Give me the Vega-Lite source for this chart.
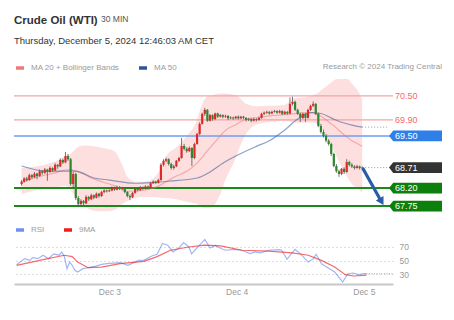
{
  "$schema": "https://vega.github.io/schema/vega-lite/v6.json",
  "padding": {"left": 13, "top": 14, "right": 6, "bottom": 6},
  "background": "white",
  "config": {
    "font": "Liberation Sans",
    "view": {"stroke": null},
    "legend": {"orient": "top", "direction": "horizontal", "offset": 4, "padding": 0, "labelFontSize": 8, "labelColor": "#9a9a9a", "symbolType": "stroke", "symbolStrokeWidth": 3.5, "symbolSize": 64, "symbolOpacity": 1, "columnPadding": 12, "labelOffset": 5}
  },
  "datasets": {
    "candles": [
      {"t":"2024-12-02T06:30","o":68.30,"h":68.40,"l":68.26,"c":68.36},
      {"t":"2024-12-02T07:00","o":68.36,"h":68.47,"l":68.33,"c":68.44},
      {"t":"2024-12-02T07:30","o":68.44,"h":68.48,"l":68.36,"c":68.40},
      {"t":"2024-12-02T08:00","o":68.40,"h":68.56,"l":68.38,"c":68.52},
      {"t":"2024-12-02T08:30","o":68.52,"h":68.55,"l":68.43,"c":68.47},
      {"t":"2024-12-02T09:00","o":68.47,"h":68.60,"l":68.45,"c":68.56},
      {"t":"2024-12-02T09:30","o":68.56,"h":68.58,"l":68.42,"c":68.50},
      {"t":"2024-12-02T10:00","o":68.50,"h":68.66,"l":68.48,"c":68.62},
      {"t":"2024-12-02T10:30","o":68.62,"h":68.65,"l":68.53,"c":68.58},
      {"t":"2024-12-02T11:00","o":68.58,"h":68.70,"l":68.55,"c":68.66},
      {"t":"2024-12-02T11:30","o":68.66,"h":68.68,"l":68.38,"c":68.60},
      {"t":"2024-12-02T12:00","o":68.60,"h":68.74,"l":68.58,"c":68.70},
      {"t":"2024-12-02T12:30","o":68.70,"h":68.72,"l":68.60,"c":68.64},
      {"t":"2024-12-02T13:00","o":68.64,"h":68.82,"l":68.62,"c":68.78},
      {"t":"2024-12-02T13:30","o":68.78,"h":68.80,"l":68.68,"c":68.74},
      {"t":"2024-12-02T14:00","o":68.74,"h":68.94,"l":68.72,"c":68.90},
      {"t":"2024-12-02T14:30","o":68.90,"h":68.93,"l":68.80,"c":68.84},
      {"t":"2024-12-02T15:00","o":68.84,"h":69.10,"l":68.82,"c":69.00},
      {"t":"2024-12-02T15:30","o":69.00,"h":69.05,"l":68.88,"c":68.92},
      {"t":"2024-12-02T16:00","o":68.92,"h":68.95,"l":68.26,"c":68.30},
      {"t":"2024-12-02T16:30","o":68.30,"h":68.60,"l":68.18,"c":68.55},
      {"t":"2024-12-02T17:00","o":68.55,"h":68.58,"l":67.90,"c":67.95},
      {"t":"2024-12-02T17:30","o":67.95,"h":68.00,"l":67.72,"c":67.80},
      {"t":"2024-12-02T18:00","o":67.80,"h":67.92,"l":67.76,"c":67.88},
      {"t":"2024-12-02T18:30","o":67.88,"h":67.90,"l":67.74,"c":67.82},
      {"t":"2024-12-02T19:00","o":67.82,"h":68.02,"l":67.80,"c":67.98},
      {"t":"2024-12-02T19:30","o":67.98,"h":68.00,"l":67.88,"c":67.92},
      {"t":"2024-12-02T20:00","o":67.92,"h":68.06,"l":67.90,"c":68.02},
      {"t":"2024-12-02T20:30","o":68.02,"h":68.04,"l":67.92,"c":67.96},
      {"t":"2024-12-02T21:00","o":67.96,"h":68.09,"l":67.94,"c":68.06},
      {"t":"2024-12-02T21:30","o":68.06,"h":68.08,"l":67.96,"c":68.00},
      {"t":"2024-12-02T22:00","o":68.00,"h":68.13,"l":67.98,"c":68.10},
      {"t":"2024-12-02T22:30","o":68.10,"h":68.17,"l":68.07,"c":68.14},
      {"t":"2024-12-02T23:00","o":68.14,"h":68.16,"l":68.09,"c":68.12},
      {"t":"2024-12-02T23:30","o":68.12,"h":68.17,"l":68.10,"c":68.14},
      {"t":"2024-12-03T00:00","o":68.14,"h":68.24,"l":68.12,"c":68.20},
      {"t":"2024-12-03T00:30","o":68.20,"h":68.23,"l":68.13,"c":68.16},
      {"t":"2024-12-03T01:00","o":68.16,"h":68.26,"l":68.14,"c":68.22},
      {"t":"2024-12-03T01:30","o":68.22,"h":68.25,"l":68.15,"c":68.18},
      {"t":"2024-12-03T02:00","o":68.18,"h":68.23,"l":68.14,"c":68.20},
      {"t":"2024-12-03T02:30","o":68.20,"h":68.22,"l":68.07,"c":68.10},
      {"t":"2024-12-03T03:00","o":68.10,"h":68.12,"l":67.97,"c":68.00},
      {"t":"2024-12-03T03:30","o":68.00,"h":68.04,"l":67.90,"c":67.97},
      {"t":"2024-12-03T04:00","o":67.97,"h":68.10,"l":67.95,"c":68.08},
      {"t":"2024-12-03T04:30","o":68.08,"h":68.20,"l":68.06,"c":68.18},
      {"t":"2024-12-03T05:00","o":68.18,"h":68.21,"l":68.12,"c":68.15},
      {"t":"2024-12-03T05:30","o":68.15,"h":68.25,"l":68.13,"c":68.22},
      {"t":"2024-12-03T06:00","o":68.22,"h":68.24,"l":68.16,"c":68.19},
      {"t":"2024-12-03T06:30","o":68.19,"h":68.27,"l":68.17,"c":68.24},
      {"t":"2024-12-03T07:00","o":68.24,"h":68.26,"l":68.18,"c":68.21},
      {"t":"2024-12-03T07:30","o":68.21,"h":68.35,"l":68.19,"c":68.32},
      {"t":"2024-12-03T08:00","o":68.32,"h":68.39,"l":68.30,"c":68.36},
      {"t":"2024-12-03T08:30","o":68.36,"h":68.38,"l":68.30,"c":68.33},
      {"t":"2024-12-03T09:00","o":68.33,"h":68.43,"l":68.31,"c":68.40},
      {"t":"2024-12-03T09:30","o":68.40,"h":68.82,"l":68.38,"c":68.78},
      {"t":"2024-12-03T10:00","o":68.78,"h":68.92,"l":68.74,"c":68.88},
      {"t":"2024-12-03T10:30","o":68.88,"h":68.96,"l":68.84,"c":68.92},
      {"t":"2024-12-03T11:00","o":68.92,"h":68.94,"l":68.76,"c":68.80},
      {"t":"2024-12-03T11:30","o":68.80,"h":68.83,"l":68.66,"c":68.70},
      {"t":"2024-12-03T12:00","o":68.70,"h":68.78,"l":68.66,"c":68.74},
      {"t":"2024-12-03T12:30","o":68.74,"h":68.90,"l":68.72,"c":68.88},
      {"t":"2024-12-03T13:00","o":68.88,"h":68.98,"l":68.85,"c":68.95},
      {"t":"2024-12-03T13:30","o":68.95,"h":69.45,"l":68.93,"c":69.25},
      {"t":"2024-12-03T14:00","o":69.25,"h":69.30,"l":69.14,"c":69.18},
      {"t":"2024-12-03T14:30","o":69.18,"h":69.22,"l":69.08,"c":69.12},
      {"t":"2024-12-03T15:00","o":69.12,"h":69.24,"l":69.10,"c":69.20},
      {"t":"2024-12-03T15:30","o":69.20,"h":69.22,"l":68.75,"c":68.95},
      {"t":"2024-12-03T16:00","o":68.95,"h":69.33,"l":68.92,"c":69.30},
      {"t":"2024-12-03T16:30","o":69.30,"h":69.58,"l":69.28,"c":69.55},
      {"t":"2024-12-03T17:00","o":69.55,"h":69.84,"l":69.52,"c":69.80},
      {"t":"2024-12-03T17:30","o":69.80,"h":70.08,"l":69.78,"c":70.05},
      {"t":"2024-12-03T18:00","o":70.05,"h":70.20,"l":70.00,"c":70.15},
      {"t":"2024-12-03T18:30","o":70.15,"h":70.17,"l":69.85,"c":69.88},
      {"t":"2024-12-03T19:00","o":69.88,"h":70.05,"l":69.86,"c":70.02},
      {"t":"2024-12-03T19:30","o":70.02,"h":70.04,"l":69.88,"c":69.92},
      {"t":"2024-12-03T20:00","o":69.92,"h":70.08,"l":69.90,"c":70.06},
      {"t":"2024-12-03T20:30","o":70.06,"h":70.08,"l":69.95,"c":69.98},
      {"t":"2024-12-03T21:00","o":69.98,"h":70.05,"l":69.96,"c":70.02},
      {"t":"2024-12-03T21:30","o":70.02,"h":70.04,"l":69.94,"c":69.98},
      {"t":"2024-12-03T22:00","o":69.98,"h":70.03,"l":69.95,"c":70.00},
      {"t":"2024-12-03T22:30","o":70.00,"h":70.02,"l":69.90,"c":69.94},
      {"t":"2024-12-03T23:00","o":69.94,"h":69.99,"l":69.92,"c":69.96},
      {"t":"2024-12-03T23:30","o":69.96,"h":69.98,"l":69.90,"c":69.94},
      {"t":"2024-12-04T00:00","o":69.94,"h":70.00,"l":69.92,"c":69.98},
      {"t":"2024-12-04T00:30","o":69.98,"h":70.01,"l":69.91,"c":69.94},
      {"t":"2024-12-04T01:00","o":69.94,"h":70.00,"l":69.92,"c":69.98},
      {"t":"2024-12-04T01:30","o":69.98,"h":70.00,"l":69.92,"c":69.95},
      {"t":"2024-12-04T02:00","o":69.95,"h":69.97,"l":69.86,"c":69.90},
      {"t":"2024-12-04T02:30","o":69.90,"h":69.95,"l":69.87,"c":69.92},
      {"t":"2024-12-04T03:00","o":69.92,"h":69.94,"l":69.84,"c":69.88},
      {"t":"2024-12-04T03:30","o":69.88,"h":69.95,"l":69.86,"c":69.92},
      {"t":"2024-12-04T04:00","o":69.92,"h":69.94,"l":69.86,"c":69.90},
      {"t":"2024-12-04T04:30","o":69.90,"h":69.98,"l":69.88,"c":69.95},
      {"t":"2024-12-04T05:00","o":69.95,"h":70.08,"l":69.93,"c":70.05},
      {"t":"2024-12-04T05:30","o":70.05,"h":70.11,"l":70.02,"c":70.08},
      {"t":"2024-12-04T06:00","o":70.08,"h":70.13,"l":70.05,"c":70.10},
      {"t":"2024-12-04T06:30","o":70.10,"h":70.12,"l":70.03,"c":70.06},
      {"t":"2024-12-04T07:00","o":70.06,"h":70.13,"l":70.04,"c":70.10},
      {"t":"2024-12-04T07:30","o":70.10,"h":70.15,"l":70.08,"c":70.12},
      {"t":"2024-12-04T08:00","o":70.12,"h":70.14,"l":70.05,"c":70.08},
      {"t":"2024-12-04T08:30","o":70.08,"h":70.15,"l":70.06,"c":70.12},
      {"t":"2024-12-04T09:00","o":70.12,"h":70.14,"l":70.02,"c":70.05},
      {"t":"2024-12-04T09:30","o":70.05,"h":70.13,"l":70.03,"c":70.10},
      {"t":"2024-12-04T10:00","o":70.10,"h":70.12,"l":70.03,"c":70.06},
      {"t":"2024-12-04T10:30","o":70.06,"h":70.46,"l":70.04,"c":70.30},
      {"t":"2024-12-04T11:00","o":70.30,"h":70.48,"l":70.26,"c":70.35},
      {"t":"2024-12-04T11:30","o":70.35,"h":70.38,"l":70.12,"c":70.15},
      {"t":"2024-12-04T12:00","o":70.15,"h":70.18,"l":70.02,"c":70.05},
      {"t":"2024-12-04T12:30","o":70.05,"h":70.08,"l":69.85,"c":69.95},
      {"t":"2024-12-04T13:00","o":69.95,"h":70.08,"l":69.92,"c":70.05},
      {"t":"2024-12-04T13:30","o":70.05,"h":70.07,"l":69.85,"c":69.95},
      {"t":"2024-12-04T14:00","o":69.95,"h":70.18,"l":69.93,"c":70.15},
      {"t":"2024-12-04T14:30","o":70.15,"h":70.28,"l":70.12,"c":70.25},
      {"t":"2024-12-04T15:00","o":70.25,"h":70.36,"l":70.22,"c":70.30},
      {"t":"2024-12-04T15:30","o":70.30,"h":70.32,"l":70.02,"c":70.05},
      {"t":"2024-12-04T16:00","o":70.05,"h":70.08,"l":69.72,"c":69.75},
      {"t":"2024-12-04T16:30","o":69.75,"h":69.80,"l":69.56,"c":69.60},
      {"t":"2024-12-04T17:00","o":69.60,"h":69.66,"l":69.46,"c":69.50},
      {"t":"2024-12-04T17:30","o":69.50,"h":69.55,"l":69.34,"c":69.38},
      {"t":"2024-12-04T18:00","o":69.38,"h":69.42,"l":69.26,"c":69.30},
      {"t":"2024-12-04T18:30","o":69.30,"h":69.33,"l":69.00,"c":69.05},
      {"t":"2024-12-04T19:00","o":69.05,"h":69.08,"l":68.72,"c":68.75},
      {"t":"2024-12-04T19:30","o":68.75,"h":68.80,"l":68.58,"c":68.62},
      {"t":"2024-12-04T20:00","o":68.62,"h":68.66,"l":68.48,"c":68.55},
      {"t":"2024-12-04T20:30","o":68.55,"h":68.70,"l":68.52,"c":68.68},
      {"t":"2024-12-04T21:00","o":68.68,"h":68.72,"l":68.55,"c":68.60},
      {"t":"2024-12-04T21:30","o":68.60,"h":68.92,"l":68.58,"c":68.85},
      {"t":"2024-12-04T22:00","o":68.85,"h":68.88,"l":68.74,"c":68.78},
      {"t":"2024-12-04T22:30","o":68.78,"h":68.82,"l":68.70,"c":68.74},
      {"t":"2024-12-04T23:00","o":68.74,"h":68.77,"l":68.66,"c":68.70},
      {"t":"2024-12-04T23:30","o":68.70,"h":68.78,"l":68.68,"c":68.74},
      {"t":"2024-12-05T00:00","o":68.74,"h":68.76,"l":68.66,"c":68.70},
      {"t":"2024-12-05T00:30","o":68.70,"h":68.74,"l":68.68,"c":68.71}
    ],
    "band": [
      {"t":"2024-12-02T06:30","u":68.70,"l":68.05},
      {"t":"2024-12-02T09:00","u":68.74,"l":68.14},
      {"t":"2024-12-02T11:00","u":68.78,"l":68.18},
      {"t":"2024-12-02T13:00","u":68.86,"l":68.22},
      {"t":"2024-12-02T15:00","u":69.00,"l":68.25},
      {"t":"2024-12-02T16:00","u":69.05,"l":68.15},
      {"t":"2024-12-02T17:00","u":69.18,"l":67.98},
      {"t":"2024-12-02T18:30","u":69.26,"l":67.78},
      {"t":"2024-12-02T20:00","u":69.25,"l":67.65},
      {"t":"2024-12-02T21:30","u":69.22,"l":67.62},
      {"t":"2024-12-02T23:00","u":69.18,"l":67.62},
      {"t":"2024-12-03T00:30","u":69.12,"l":67.65},
      {"t":"2024-12-03T02:00","u":68.78,"l":67.80},
      {"t":"2024-12-03T03:00","u":68.48,"l":67.88},
      {"t":"2024-12-03T04:30","u":68.36,"l":67.95},
      {"t":"2024-12-03T06:00","u":68.36,"l":67.98},
      {"t":"2024-12-03T08:00","u":68.44,"l":67.98},
      {"t":"2024-12-03T09:30","u":68.70,"l":67.96},
      {"t":"2024-12-03T10:30","u":69.00,"l":67.95},
      {"t":"2024-12-03T12:30","u":69.22,"l":67.92},
      {"t":"2024-12-03T14:30","u":69.50,"l":67.86},
      {"t":"2024-12-03T16:30","u":69.90,"l":67.80},
      {"t":"2024-12-03T17:30","u":70.30,"l":67.72},
      {"t":"2024-12-03T18:00","u":70.42,"l":67.70},
      {"t":"2024-12-03T19:00","u":70.50,"l":67.70},
      {"t":"2024-12-03T20:00","u":70.54,"l":67.80},
      {"t":"2024-12-03T21:00","u":70.56,"l":68.05},
      {"t":"2024-12-03T22:00","u":70.56,"l":68.40},
      {"t":"2024-12-04T00:00","u":70.52,"l":68.95},
      {"t":"2024-12-04T01:00","u":70.42,"l":69.30},
      {"t":"2024-12-04T02:00","u":70.30,"l":69.55},
      {"t":"2024-12-04T04:00","u":70.24,"l":69.78},
      {"t":"2024-12-04T06:30","u":70.25,"l":69.84},
      {"t":"2024-12-04T09:30","u":70.28,"l":69.88},
      {"t":"2024-12-04T11:00","u":70.42,"l":69.84},
      {"t":"2024-12-04T12:00","u":70.45,"l":69.83},
      {"t":"2024-12-04T14:00","u":70.48,"l":69.83},
      {"t":"2024-12-04T15:00","u":70.52,"l":69.83},
      {"t":"2024-12-04T16:00","u":70.58,"l":69.78},
      {"t":"2024-12-04T17:00","u":70.68,"l":69.62},
      {"t":"2024-12-04T18:00","u":70.78,"l":69.40},
      {"t":"2024-12-04T19:30","u":70.92,"l":69.00},
      {"t":"2024-12-04T20:30","u":70.96,"l":68.72},
      {"t":"2024-12-04T21:30","u":70.94,"l":68.50},
      {"t":"2024-12-04T22:30","u":70.80,"l":68.30},
      {"t":"2024-12-05T00:00","u":70.55,"l":68.15},
      {"t":"2024-12-05T00:30","u":70.40,"l":68.07}
    ],
    "ma": [
      {"t":"2024-12-02T06:30","s":"MA 20 + Bollinger Bands","v":68.35},
      {"t":"2024-12-02T09:00","s":"MA 20 + Bollinger Bands","v":68.45},
      {"t":"2024-12-02T11:00","s":"MA 20 + Bollinger Bands","v":68.52},
      {"t":"2024-12-02T13:00","s":"MA 20 + Bollinger Bands","v":68.58},
      {"t":"2024-12-02T15:00","s":"MA 20 + Bollinger Bands","v":68.65},
      {"t":"2024-12-02T16:00","s":"MA 20 + Bollinger Bands","v":68.66},
      {"t":"2024-12-02T17:00","s":"MA 20 + Bollinger Bands","v":68.62},
      {"t":"2024-12-02T18:30","s":"MA 20 + Bollinger Bands","v":68.55},
      {"t":"2024-12-02T20:00","s":"MA 20 + Bollinger Bands","v":68.45},
      {"t":"2024-12-02T21:30","s":"MA 20 + Bollinger Bands","v":68.38},
      {"t":"2024-12-02T23:00","s":"MA 20 + Bollinger Bands","v":68.32},
      {"t":"2024-12-03T00:30","s":"MA 20 + Bollinger Bands","v":68.26},
      {"t":"2024-12-03T02:00","s":"MA 20 + Bollinger Bands","v":68.17},
      {"t":"2024-12-03T03:00","s":"MA 20 + Bollinger Bands","v":68.12},
      {"t":"2024-12-03T04:30","s":"MA 20 + Bollinger Bands","v":68.12},
      {"t":"2024-12-03T06:00","s":"MA 20 + Bollinger Bands","v":68.14},
      {"t":"2024-12-03T08:00","s":"MA 20 + Bollinger Bands","v":68.20},
      {"t":"2024-12-03T09:30","s":"MA 20 + Bollinger Bands","v":68.28},
      {"t":"2024-12-03T10:30","s":"MA 20 + Bollinger Bands","v":68.36},
      {"t":"2024-12-03T12:30","s":"MA 20 + Bollinger Bands","v":68.50},
      {"t":"2024-12-03T14:30","s":"MA 20 + Bollinger Bands","v":68.62},
      {"t":"2024-12-03T16:30","s":"MA 20 + Bollinger Bands","v":68.82},
      {"t":"2024-12-03T17:30","s":"MA 20 + Bollinger Bands","v":68.97},
      {"t":"2024-12-03T18:00","s":"MA 20 + Bollinger Bands","v":69.05},
      {"t":"2024-12-03T19:00","s":"MA 20 + Bollinger Bands","v":69.20},
      {"t":"2024-12-03T20:00","s":"MA 20 + Bollinger Bands","v":69.35},
      {"t":"2024-12-03T21:00","s":"MA 20 + Bollinger Bands","v":69.50},
      {"t":"2024-12-03T22:00","s":"MA 20 + Bollinger Bands","v":69.64},
      {"t":"2024-12-04T00:00","s":"MA 20 + Bollinger Bands","v":69.78},
      {"t":"2024-12-04T01:00","s":"MA 20 + Bollinger Bands","v":69.86},
      {"t":"2024-12-04T02:00","s":"MA 20 + Bollinger Bands","v":69.92},
      {"t":"2024-12-04T04:00","s":"MA 20 + Bollinger Bands","v":69.96},
      {"t":"2024-12-04T06:30","s":"MA 20 + Bollinger Bands","v":70.00},
      {"t":"2024-12-04T09:30","s":"MA 20 + Bollinger Bands","v":70.03},
      {"t":"2024-12-04T11:00","s":"MA 20 + Bollinger Bands","v":70.05},
      {"t":"2024-12-04T12:00","s":"MA 20 + Bollinger Bands","v":70.07},
      {"t":"2024-12-04T14:00","s":"MA 20 + Bollinger Bands","v":70.08},
      {"t":"2024-12-04T15:00","s":"MA 20 + Bollinger Bands","v":70.08},
      {"t":"2024-12-04T16:00","s":"MA 20 + Bollinger Bands","v":70.02},
      {"t":"2024-12-04T17:00","s":"MA 20 + Bollinger Bands","v":69.95},
      {"t":"2024-12-04T18:00","s":"MA 20 + Bollinger Bands","v":69.85},
      {"t":"2024-12-04T19:30","s":"MA 20 + Bollinger Bands","v":69.70},
      {"t":"2024-12-04T20:30","s":"MA 20 + Bollinger Bands","v":69.58},
      {"t":"2024-12-04T21:30","s":"MA 20 + Bollinger Bands","v":69.48},
      {"t":"2024-12-04T22:30","s":"MA 20 + Bollinger Bands","v":69.38},
      {"t":"2024-12-05T00:00","s":"MA 20 + Bollinger Bands","v":69.28},
      {"t":"2024-12-05T00:30","s":"MA 20 + Bollinger Bands","v":69.24},
      {"t":"2024-12-02T06:30","s":"MA 50","v":68.75},
      {"t":"2024-12-02T11:30","s":"MA 50","v":68.62},
      {"t":"2024-12-02T17:00","s":"MA 50","v":68.62},
      {"t":"2024-12-02T20:30","s":"MA 50","v":68.45},
      {"t":"2024-12-02T23:30","s":"MA 50","v":68.40},
      {"t":"2024-12-03T04:30","s":"MA 50","v":68.32},
      {"t":"2024-12-03T08:00","s":"MA 50","v":68.34},
      {"t":"2024-12-03T11:00","s":"MA 50","v":68.37},
      {"t":"2024-12-03T16:30","s":"MA 50","v":68.45},
      {"t":"2024-12-03T19:00","s":"MA 50","v":68.60},
      {"t":"2024-12-03T21:30","s":"MA 50","v":68.82},
      {"t":"2024-12-04T00:30","s":"MA 50","v":69.03},
      {"t":"2024-12-04T04:00","s":"MA 50","v":69.24},
      {"t":"2024-12-04T06:30","s":"MA 50","v":69.38},
      {"t":"2024-12-04T09:30","s":"MA 50","v":69.65},
      {"t":"2024-12-04T12:00","s":"MA 50","v":69.92},
      {"t":"2024-12-04T14:30","s":"MA 50","v":70.08},
      {"t":"2024-12-04T16:30","s":"MA 50","v":70.06},
      {"t":"2024-12-04T18:30","s":"MA 50","v":69.95},
      {"t":"2024-12-04T20:30","s":"MA 50","v":69.84},
      {"t":"2024-12-04T22:30","s":"MA 50","v":69.77},
      {"t":"2024-12-05T00:30","s":"MA 50","v":69.72}
    ],
    "levels": [
      {"v":70.50,"label":"70.50","kind":"res"},
      {"v":69.90,"label":"69.90","kind":"res"},
      {"v":69.50,"label":"69.50","kind":"pivot"},
      {"v":68.71,"label":"68.71","kind":"last"},
      {"v":68.20,"label":"68.20","kind":"sup"},
      {"v":67.75,"label":"67.75","kind":"sup"}
    ],
    "ext": [
      {"t":"2024-12-05T00:30","t2":"2024-12-05T05:30","v":69.72},
      {"t":"2024-12-05T00:30","t2":"2024-12-05T05:30","v":68.71}
    ],
    "arrow": [
      {"t":"2024-12-05T00:40","v":68.68},
      {"t":"2024-12-05T03:50","v":67.95}
    ],
    "head": [
      {"t":"2024-12-05T04:15","v":67.86}
    ],
    "rsi": [
      {"t":"2024-12-02T06:30","s":"RSI","v":44},
      {"t":"2024-12-02T08:00","s":"RSI","v":53},
      {"t":"2024-12-02T09:00","s":"RSI","v":50.5},
      {"t":"2024-12-02T09:30","s":"RSI","v":54.5},
      {"t":"2024-12-02T10:30","s":"RSI","v":53},
      {"t":"2024-12-02T11:30","s":"RSI","v":58},
      {"t":"2024-12-02T12:30","s":"RSI","v":53},
      {"t":"2024-12-02T13:30","s":"RSI","v":60},
      {"t":"2024-12-02T14:30","s":"RSI","v":58},
      {"t":"2024-12-02T15:00","s":"RSI","v":62.7},
      {"t":"2024-12-02T15:30","s":"RSI","v":56},
      {"t":"2024-12-02T16:00","s":"RSI","v":38.4},
      {"t":"2024-12-02T16:30","s":"RSI","v":48},
      {"t":"2024-12-02T17:00","s":"RSI","v":43},
      {"t":"2024-12-02T17:30","s":"RSI","v":36},
      {"t":"2024-12-02T18:00","s":"RSI","v":33.4},
      {"t":"2024-12-02T19:00","s":"RSI","v":38.4},
      {"t":"2024-12-02T20:30","s":"RSI","v":40.7},
      {"t":"2024-12-02T21:30","s":"RSI","v":42},
      {"t":"2024-12-02T22:30","s":"RSI","v":44.6},
      {"t":"2024-12-02T23:30","s":"RSI","v":45.6},
      {"t":"2024-12-03T02:00","s":"RSI","v":47.1},
      {"t":"2024-12-03T03:30","s":"RSI","v":43.2},
      {"t":"2024-12-03T05:30","s":"RSI","v":50.5},
      {"t":"2024-12-03T06:30","s":"RSI","v":50.5},
      {"t":"2024-12-03T08:00","s":"RSI","v":56.9},
      {"t":"2024-12-03T09:00","s":"RSI","v":59.3},
      {"t":"2024-12-03T10:00","s":"RSI","v":75},
      {"t":"2024-12-03T11:00","s":"RSI","v":72.6},
      {"t":"2024-12-03T12:00","s":"RSI","v":62.7},
      {"t":"2024-12-03T13:00","s":"RSI","v":67.7},
      {"t":"2024-12-03T14:00","s":"RSI","v":76.5},
      {"t":"2024-12-03T15:00","s":"RSI","v":70},
      {"t":"2024-12-03T15:30","s":"RSI","v":60},
      {"t":"2024-12-03T17:00","s":"RSI","v":72.6},
      {"t":"2024-12-03T18:00","s":"RSI","v":81},
      {"t":"2024-12-03T19:00","s":"RSI","v":68.5},
      {"t":"2024-12-03T20:00","s":"RSI","v":72.6},
      {"t":"2024-12-03T21:00","s":"RSI","v":67.7},
      {"t":"2024-12-03T22:00","s":"RSI","v":65.2},
      {"t":"2024-12-03T23:30","s":"RSI","v":66.4},
      {"t":"2024-12-04T01:00","s":"RSI","v":65.2},
      {"t":"2024-12-04T02:30","s":"RSI","v":60.3},
      {"t":"2024-12-04T03:30","s":"RSI","v":62.7},
      {"t":"2024-12-04T04:30","s":"RSI","v":61.5},
      {"t":"2024-12-04T06:00","s":"RSI","v":65.2},
      {"t":"2024-12-04T08:00","s":"RSI","v":66.2},
      {"t":"2024-12-04T08:30","s":"RSI","v":65.2},
      {"t":"2024-12-04T09:30","s":"RSI","v":52},
      {"t":"2024-12-04T11:00","s":"RSI","v":66.4},
      {"t":"2024-12-04T12:00","s":"RSI","v":60.3},
      {"t":"2024-12-04T13:30","s":"RSI","v":48},
      {"t":"2024-12-04T14:30","s":"RSI","v":53},
      {"t":"2024-12-04T15:00","s":"RSI","v":59.3},
      {"t":"2024-12-04T16:00","s":"RSI","v":45.6},
      {"t":"2024-12-04T17:00","s":"RSI","v":40.7},
      {"t":"2024-12-04T18:30","s":"RSI","v":33.4},
      {"t":"2024-12-04T19:30","s":"RSI","v":23.7},
      {"t":"2024-12-04T20:00","s":"RSI","v":18.8},
      {"t":"2024-12-04T21:00","s":"RSI","v":31},
      {"t":"2024-12-04T22:00","s":"RSI","v":32},
      {"t":"2024-12-04T23:00","s":"RSI","v":29.6},
      {"t":"2024-12-05T00:00","s":"RSI","v":31},
      {"t":"2024-12-05T00:30","s":"RSI","v":31},
      {"t":"2024-12-02T06:30","s":"9MA","v":43.2},
      {"t":"2024-12-02T11:30","s":"9MA","v":51.5},
      {"t":"2024-12-02T15:30","s":"9MA","v":57.9},
      {"t":"2024-12-02T17:00","s":"9MA","v":56},
      {"t":"2024-12-02T18:00","s":"9MA","v":48},
      {"t":"2024-12-02T20:00","s":"9MA","v":39.8},
      {"t":"2024-12-02T22:30","s":"9MA","v":40.7},
      {"t":"2024-12-03T02:00","s":"9MA","v":45.6},
      {"t":"2024-12-03T06:30","s":"9MA","v":49},
      {"t":"2024-12-03T09:00","s":"9MA","v":56},
      {"t":"2024-12-03T11:30","s":"9MA","v":65.2},
      {"t":"2024-12-03T15:00","s":"9MA","v":70},
      {"t":"2024-12-03T18:00","s":"9MA","v":72.6},
      {"t":"2024-12-03T21:00","s":"9MA","v":71.5},
      {"t":"2024-12-04T01:00","s":"9MA","v":65.2},
      {"t":"2024-12-04T06:00","s":"9MA","v":63.9},
      {"t":"2024-12-04T10:30","s":"9MA","v":61.5},
      {"t":"2024-12-04T13:30","s":"9MA","v":57.9},
      {"t":"2024-12-04T16:00","s":"9MA","v":50.5},
      {"t":"2024-12-04T18:30","s":"9MA","v":40.7},
      {"t":"2024-12-04T20:30","s":"9MA","v":29.6},
      {"t":"2024-12-04T22:00","s":"9MA","v":27.7},
      {"t":"2024-12-05T00:00","s":"9MA","v":28.6},
      {"t":"2024-12-05T00:30","s":"9MA","v":28.8}
    ],
    "rsiext": [
      {"t":"2024-12-05T00:30","t2":"2024-12-05T05:30","v":31}
    ]
  },
  "title": {"text": "Crude Oil (WTI)", "subtitle": "Thursday, December 5, 2024 12:46:03 AM CET", "anchor": "start", "frame": "group", "fontSize": 11.5, "fontWeight": "bold", "color": "#333333", "subtitleFontSize": 9.5, "subtitleColor": "#333333", "subtitlePadding": 10, "offset": -31},
  "vconcat": [
    {
      "title": {"text": "30 MIN", "anchor": "start", "frame": "group", "fontSize": 8.5, "fontWeight": "normal", "color": "#555555", "offset": 39, "dx": 87},
      "spacing": 11,
      "resolve": {"scale": {"color": "independent"}, "legend": {"color": "independent"}},
      "vconcat": [
        {
          "width": 379,
          "height": 134,
          "title": {"text": "Research © 2024 Trading Central", "anchor": "end", "frame": "group", "fontSize": 8, "fontWeight": "normal", "color": "#9a9a9a", "offset": -9, "dx": 49},
          "layer": [
            {
              "data": {"name": "band"},
              "mark": {"type": "area", "color": "#fbcaca", "opacity": 0.6, "clip": true, "interpolate": "monotone"},
              "encoding": {
                "x": {"field": "t", "type": "temporal", "scale": {"domain": [{"year": 2024, "month": 12, "date": 2, "hours": 6}, {"year": 2024, "month": 12, "date": 5, "hours": 5, "minutes": 30}], "nice": false}, "axis": null},
                "y": {"field": "u", "type": "quantitative", "scale": {"domain": [67.578, 70.92], "nice": false, "zero": false}, "axis": null},
                "y2": {"field": "l"}
              }
            },
            {
              "data": {"name": "levels"},
              "transform": [{"filter": "datum.kind == 'res'"}],
              "mark": {"type": "rule", "color": "#f6a3a3", "strokeWidth": 1.3},
              "encoding": {"y": {"field": "v", "type": "quantitative", "scale": {"domain": [67.578, 70.92], "nice": false, "zero": false}, "axis": null}}
            },
            {
              "data": {"name": "levels"},
              "transform": [{"filter": "datum.kind == 'pivot'"}],
              "mark": {"type": "rule", "color": "#6c9ef3", "strokeWidth": 1.5},
              "encoding": {"y": {"field": "v", "type": "quantitative", "scale": {"domain": [67.578, 70.92], "nice": false, "zero": false}, "axis": null}}
            },
            {
              "data": {"name": "levels"},
              "transform": [{"filter": "datum.kind == 'sup'"}],
              "mark": {"type": "rule", "color": "#1a8a1a", "strokeWidth": 2},
              "encoding": {"y": {"field": "v", "type": "quantitative", "scale": {"domain": [67.578, 70.92], "nice": false, "zero": false}, "axis": null}}
            },
            {
              "data": {"name": "ma"},
              "mark": {"type": "line", "strokeWidth": 1.2, "opacity": 0.55, "interpolate": "monotone"},
              "encoding": {
                "x": {"field": "t", "type": "temporal", "scale": {"domain": [{"year": 2024, "month": 12, "date": 2, "hours": 6}, {"year": 2024, "month": 12, "date": 5, "hours": 5, "minutes": 30}], "nice": false}, "axis": null},
                "y": {"field": "v", "type": "quantitative", "scale": {"domain": [67.578, 70.92], "nice": false, "zero": false}, "axis": null},
                "color": {"field": "s", "type": "nominal", "scale": {"domain": ["MA 20 + Bollinger Bands", "MA 50"], "range": ["#f07a7a", "#2f5597"]}, "legend": {"title": null}}
              }
            },
            {
              "data": {"name": "candles"},
              "mark": {"type": "rule", "color": "#555555", "strokeWidth": 0.8},
              "encoding": {
                "x": {"field": "t", "type": "temporal", "scale": {"domain": [{"year": 2024, "month": 12, "date": 2, "hours": 6}, {"year": 2024, "month": 12, "date": 5, "hours": 5, "minutes": 30}], "nice": false}, "axis": null},
                "y": {"field": "l", "type": "quantitative", "scale": {"domain": [67.578, 70.92], "nice": false, "zero": false}, "axis": null},
                "y2": {"field": "h"}
              }
            },
            {
              "data": {"name": "candles"},
              "mark": {"type": "bar", "width": 2.2},
              "encoding": {
                "x": {"field": "t", "type": "temporal", "scale": {"domain": [{"year": 2024, "month": 12, "date": 2, "hours": 6}, {"year": 2024, "month": 12, "date": 5, "hours": 5, "minutes": 30}], "nice": false}, "axis": null},
                "y": {"field": "o", "type": "quantitative", "scale": {"domain": [67.578, 70.92], "nice": false, "zero": false}, "axis": null},
                "y2": {"field": "c"},
                "color": {"condition": {"test": "datum.c >= datum.o", "value": "#e02828"}, "value": "#2e862e"}
              }
            },
            {
              "data": {"name": "ext"},
              "mark": {"type": "rule", "color": "#9a9a9a", "strokeWidth": 1, "strokeDash": [1, 2]},
              "encoding": {
                "x": {"field": "t", "type": "temporal", "scale": {"domain": [{"year": 2024, "month": 12, "date": 2, "hours": 6}, {"year": 2024, "month": 12, "date": 5, "hours": 5, "minutes": 30}], "nice": false}, "axis": null},
                "x2": {"field": "t2"},
                "y": {"field": "v", "type": "quantitative", "scale": {"domain": [67.578, 70.92], "nice": false, "zero": false}, "axis": null}
              }
            },
            {
              "data": {"name": "arrow"},
              "mark": {"type": "line", "color": "#2b5ca6", "strokeWidth": 3.2, "strokeCap": "round"},
              "encoding": {
                "x": {"field": "t", "type": "temporal", "scale": {"domain": [{"year": 2024, "month": 12, "date": 2, "hours": 6}, {"year": 2024, "month": 12, "date": 5, "hours": 5, "minutes": 30}], "nice": false}, "axis": null},
                "y": {"field": "v", "type": "quantitative", "scale": {"domain": [67.578, 70.92], "nice": false, "zero": false}, "axis": null}
              }
            },
            {
              "data": {"name": "head"},
              "mark": {"type": "point", "shape": "triangle-down", "filled": true, "color": "#2b5ca6", "size": 80, "angle": 330, "opacity": 1},
              "encoding": {
                "x": {"field": "t", "type": "temporal", "scale": {"domain": [{"year": 2024, "month": 12, "date": 2, "hours": 6}, {"year": 2024, "month": 12, "date": 5, "hours": 5, "minutes": 30}], "nice": false}, "axis": null},
                "y": {"field": "v", "type": "quantitative", "scale": {"domain": [67.578, 70.92], "nice": false, "zero": false}, "axis": null}
              }
            },
            {
              "data": {"name": "levels"},
              "transform": [{"filter": "datum.kind != 'res'"}],
              "mark": {"type": "point", "shape": "M-1,0L-0.84,-0.205L1,-0.205L1,0.205L-0.84,0.205Z", "size": 2809, "filled": true, "opacity": 1, "strokeWidth": 0, "xOffset": 27.5},
              "encoding": {
                "x": {"datum": {"year": 2024, "month": 12, "date": 5, "hours": 5, "minutes": 30}, "type": "temporal", "scale": {"domain": [{"year": 2024, "month": 12, "date": 2, "hours": 6}, {"year": 2024, "month": 12, "date": 5, "hours": 5, "minutes": 30}], "nice": false}, "axis": null},
                "y": {"field": "v", "type": "quantitative", "scale": {"domain": [67.578, 70.92], "nice": false, "zero": false}, "axis": null},
                "fill": {"field": "kind", "type": "nominal", "scale": {"domain": ["pivot", "last", "sup"], "range": ["#2f7fe8", "#333333", "#0d7f0d"]}, "legend": null}
              }
            },
            {
              "data": {"name": "levels"},
              "transform": [{"filter": "datum.kind == 'res'"}],
              "mark": {"type": "text", "color": "#f46a6a", "fontSize": 9, "align": "left", "baseline": "middle", "dx": 7},
              "encoding": {
                "x": {"datum": {"year": 2024, "month": 12, "date": 5, "hours": 5, "minutes": 30}, "type": "temporal", "scale": {"domain": [{"year": 2024, "month": 12, "date": 2, "hours": 6}, {"year": 2024, "month": 12, "date": 5, "hours": 5, "minutes": 30}], "nice": false}, "axis": null},
                "y": {"field": "v", "type": "quantitative", "scale": {"domain": [67.578, 70.92], "nice": false, "zero": false}, "axis": null},
                "text": {"field": "label", "type": "nominal"}
              }
            },
            {
              "data": {"name": "levels"},
              "transform": [{"filter": "datum.kind != 'res'"}],
              "mark": {"type": "text", "color": "#ffffff", "fontSize": 9, "align": "left", "baseline": "middle", "dx": 7},
              "encoding": {
                "x": {"datum": {"year": 2024, "month": 12, "date": 5, "hours": 5, "minutes": 30}, "type": "temporal", "scale": {"domain": [{"year": 2024, "month": 12, "date": 2, "hours": 6}, {"year": 2024, "month": 12, "date": 5, "hours": 5, "minutes": 30}], "nice": false}, "axis": null},
                "y": {"field": "v", "type": "quantitative", "scale": {"domain": [67.578, 70.92], "nice": false, "zero": false}, "axis": null},
                "text": {"field": "label", "type": "nominal"}
              }
            }
          ]
        },
        {
          "width": 379,
          "height": 48,
          "encoding": {
            "x": {"field": "t", "type": "temporal", "scale": {"domain": [{"year": 2024, "month": 12, "date": 2, "hours": 6}, {"year": 2024, "month": 12, "date": 5, "hours": 5, "minutes": 30}], "nice": false}, "axis": {"values": [{"year": 2024, "month": 12, "date": 3}, {"year": 2024, "month": 12, "date": 4}, {"year": 2024, "month": 12, "date": 5}], "format": "%b %-d", "title": null, "grid": false, "ticks": false, "domainColor": "#c8c8c8", "domainWidth": 2, "labelFontSize": 8.5, "labelColor": "#999999", "labelPadding": 3}},
            "y": {"field": "v", "type": "quantitative", "scale": {"domain": [16, 86], "nice": false, "zero": false}, "axis": {"orient": "right", "values": [30, 50, 70], "title": null, "grid": true, "gridDash": [1, 3], "gridColor": "#bbbbbb", "domain": false, "ticks": false, "labelFontSize": 8.5, "labelColor": "#999999", "labelPadding": 6, "labelOverlap": false, "labelFlush": false, "labelBound": false, "labelSeparation": 0}}
          },
          "layer": [
            {
              "data": {"name": "rsi"},
              "mark": {"type": "line", "strokeWidth": 1.2, "opacity": 0.65},
              "encoding": {
                "color": {"field": "s", "type": "nominal", "scale": {"domain": ["RSI", "9MA"], "range": ["#6e8ff0", "#ef1c1c"]}, "legend": {"title": null, "offset": -1}}
              }
            },
            {
              "data": {"name": "rsiext"},
              "mark": {"type": "rule", "color": "#8fa8f0", "strokeWidth": 1, "strokeDash": [1, 1.5]},
              "encoding": {
                "x2": {"field": "t2"}
              }
            }
          ]
        }
      ]
    }
  ]
}
